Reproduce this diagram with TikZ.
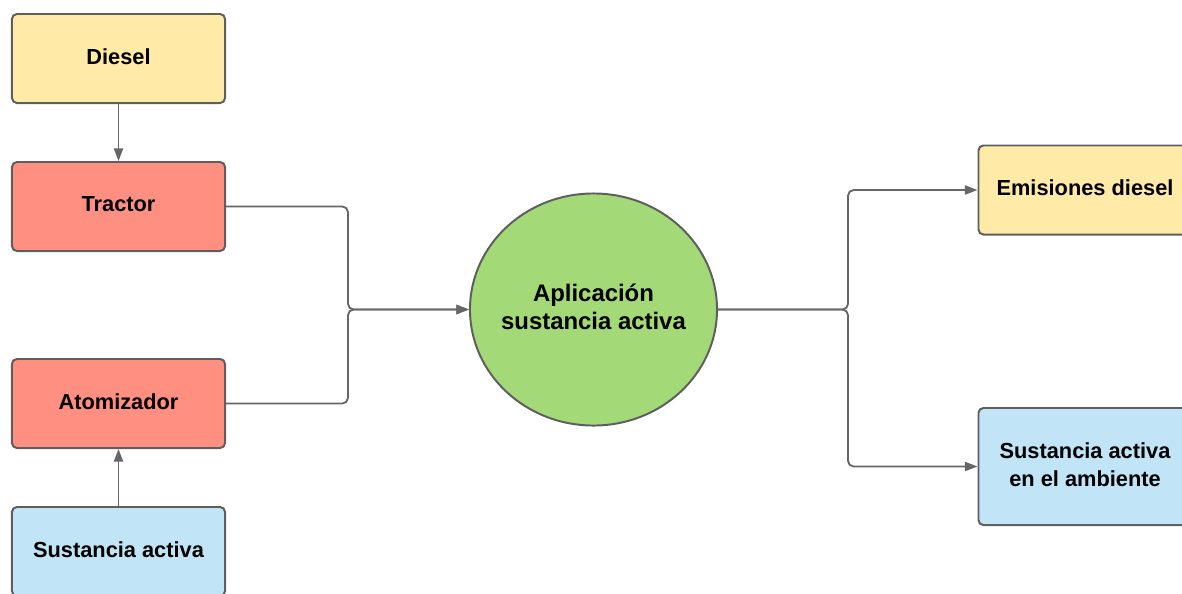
\documentclass[tikz,border=0pt]{standalone}
\usepackage{fontspec}
\setmainfont{Liberation Sans}
\usetikzlibrary{shapes.geometric,arrows.meta}

\definecolor{amarillo}{RGB}{255,234,167}
\definecolor{rojo}{RGB}{255,143,128}
\definecolor{celeste}{RGB}{193,228,247}
\definecolor{verde}{RGB}{163,217,119}
\definecolor{borde}{RGB}{94,94,94}
\definecolor{linea}{RGB}{102,102,102}

\tikzset{
  caja/.style={draw=borde, line width=1.4pt, rounded corners=3.5pt,
    minimum width=5.325cm, minimum height=2.225cm, inner sep=0pt,
    text depth=3pt,
    align=center, font=\fontsize{15.5}{19.5}\selectfont\bfseries},
  elipse/.style={ellipse, draw=borde, line width=1.4pt, fill=verde,
    minimum width=6.175cm, minimum height=5.8cm, inner xsep=-0.6cm,
    inner ysep=0pt, text depth=4pt,
    align=center, font=\fontsize{17}{20}\selectfont\bfseries},
  flecha/.style={draw=linea, line width=1.3pt,
    -{Triangle[length=9pt,width=6.5pt]}, rounded corners=4pt}
}

\begin{document}
\begin{tikzpicture}[x=0.025cm, y=-0.025cm]
\useasboundingbox (0,0) rectangle (1182,593);
\clip (0,0) rectangle (1182,593);

% entradas
\node[caja, fill=amarillo] (diesel) at (118.5,58.5) {Diesel};
\node[caja, fill=rojo] (tractor) at (118.5,206.5) {Tractor};
\node[caja, fill=rojo] (atomizador) at (118.5,403.5) {Atomizador};
\node[caja, fill=celeste] (sustancia) at (118.5,551.5) {Sustancia activa};

% proceso
\node[elipse] (aplicacion) at (593.5,309.5) {Aplicación\\sustancia activa};

% salidas
\node[caja, fill=amarillo] (emisiones) at (1085,190) {Emisiones diesel};
\node[caja, fill=celeste, minimum height=2.925cm] (ambiente) at (1085,466.5)
  {Sustancia activa\\en el ambiente};

% uniones
\coordinate (jizq) at (348,309.5);
\coordinate (jder) at (848,309.5);

% conectores
\draw[flecha] (diesel) -- (tractor);
\draw[flecha] (sustancia) -- (atomizador);
\draw[flecha] (tractor.east) -| (jizq) -- (aplicacion.west);
\draw[flecha] (atomizador.east) -| (jizq) -- (aplicacion.west);
\draw[flecha] (aplicacion.east) -- (jder) |- (emisiones.west);
\draw[flecha] (aplicacion.east) -- (jder) |- (ambiente.west);
\end{tikzpicture}
\end{document}
